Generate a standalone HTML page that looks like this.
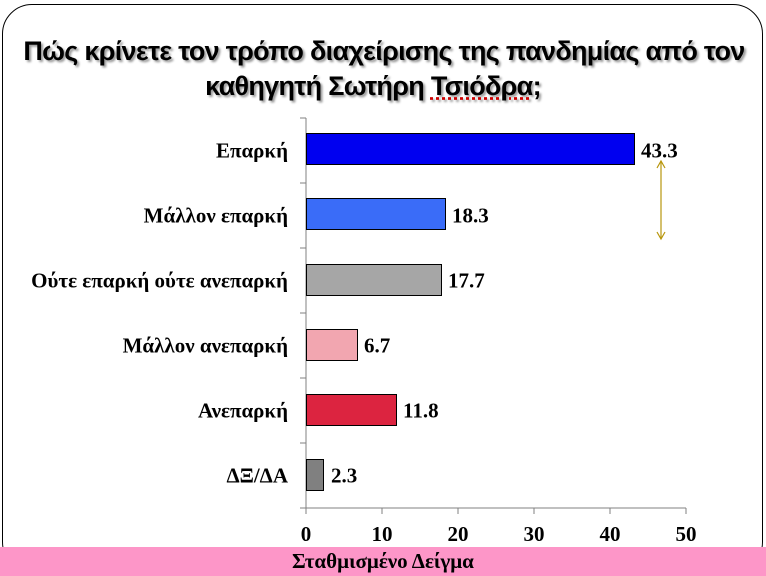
<!DOCTYPE html>
<html><head><meta charset="utf-8"><style>
html,body{margin:0;width:766px;height:576px;overflow:hidden}
body{background:#fff;position:relative;font-family:"Liberation Serif",serif}
.frame{position:absolute;left:2px;top:4px;width:759px;height:566px;border:1.5px solid #000;border-radius:30px}
.t{position:absolute;left:0;width:766px;text-align:center;font-family:"Liberation Sans",sans-serif;font-weight:bold;font-size:27px;letter-spacing:-0.7px;text-shadow:2px 2px 2px #999;white-space:nowrap}
.lab{position:absolute;right:478px;font-weight:bold;font-size:21px;white-space:nowrap;transform:translateY(-50%)}
.bar{position:absolute;left:306px;height:32px;border:1px solid #000;box-sizing:border-box}
.val{position:absolute;font-weight:bold;font-size:21px;transform:translateY(-50%)}
.tick{position:absolute;top:522px;font-weight:bold;font-size:21px;width:40px;margin-left:-20px;text-align:center}
.pink{position:absolute;left:0;top:547px;width:766px;height:29px;background:#fd96c8}
</style></head><body>
<div class="frame"></div>
<div class="t" style="top:36px;left:1px">Πώς κρίνετε τον τρόπο διαχείρισης της πανδημίας από τον</div>
<div class="t" style="top:71px;left:-10px">καθηγητή Σωτήρη <span style="text-decoration:underline dotted #c00">Τσιόδρα</span>;</div>
<svg style="position:absolute;left:0;top:0" width="766" height="576">
<line x1="306" y1="118" x2="306" y2="508" stroke="#808080"/>
<line x1="300" y1="508" x2="686" y2="508" stroke="#808080"/>
<g stroke="#808080">
<line x1="300" y1="118" x2="306" y2="118"/><line x1="300" y1="183" x2="306" y2="183"/><line x1="300" y1="248" x2="306" y2="248"/><line x1="300" y1="313" x2="306" y2="313"/><line x1="300" y1="378" x2="306" y2="378"/><line x1="300" y1="443" x2="306" y2="443"/>
<line x1="306" y1="508" x2="306" y2="514"/><line x1="382" y1="508" x2="382" y2="514"/><line x1="458" y1="508" x2="458" y2="514"/><line x1="534" y1="508" x2="534" y2="514"/><line x1="610" y1="508" x2="610" y2="514"/><line x1="686" y1="508" x2="686" y2="514"/>
</g>
<g stroke="#b8960c" stroke-width="1.2" fill="none">
<line x1="661" y1="161" x2="661" y2="239"/>
<polyline points="657,168 661,161 665,168"/><polyline points="657,232 661,239 665,232"/>
</g>
</svg>
<div class="lab" style="top:151px">Επαρκή</div>
<div class="lab" style="top:216px">Μάλλον επαρκή</div>
<div class="lab" style="top:281px">Ούτε επαρκή ούτε ανεπαρκή</div>
<div class="lab" style="top:346px">Μάλλον ανεπαρκή</div>
<div class="lab" style="top:411px">Ανεπαρκή</div>
<div class="lab" style="top:476px">ΔΞ/ΔΑ</div>
<div class="bar" style="top:133px;width:329px;background:#0000f0"></div>
<div class="bar" style="top:198px;width:140px;background:#3a6cf8"></div>
<div class="bar" style="top:264px;width:136px;background:#a6a6a6"></div>
<div class="bar" style="top:329px;width:52px;background:#f2a6b0"></div>
<div class="bar" style="top:394px;width:91px;background:#dc2440"></div>
<div class="bar" style="top:459px;width:18px;background:#808080"></div>
<div class="val" style="top:151px;left:641px">43.3</div>
<div class="val" style="top:216px;left:452px">18.3</div>
<div class="val" style="top:281px;left:448px">17.7</div>
<div class="val" style="top:346px;left:364px">6.7</div>
<div class="val" style="top:411px;left:403px">11.8</div>
<div class="val" style="top:476px;left:331px">2.3</div>
<div class="tick" style="left:306px">0</div><div class="tick" style="left:382px">10</div><div class="tick" style="left:458px">20</div><div class="tick" style="left:534px">30</div><div class="tick" style="left:610px">40</div><div class="tick" style="left:686px">50</div>
<div class="pink"><div style="position:absolute;left:292px;top:2px;font-weight:bold;font-size:21px">Σταθμισμένο Δείγμα</div></div>
</body></html>
